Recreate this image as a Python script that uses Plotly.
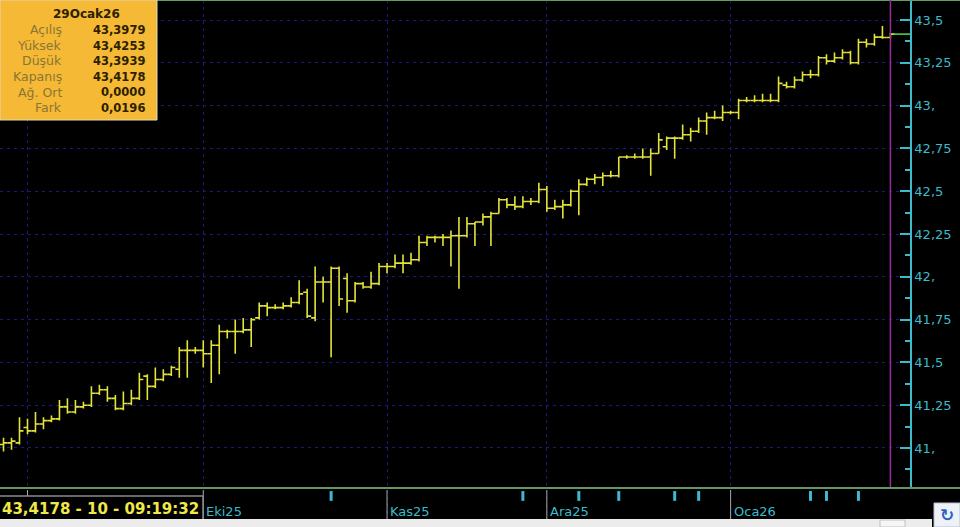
import pandas as pd
import plotly.graph_objects as go

# daily bars, 27 Aug 2025 .. 29 Jan 2026 (weekdays)
dates = pd.bdate_range("2025-08-27", "2026-01-29").strftime("%Y-%m-%d").tolist()

opens = [
    41.02, 41.03, 41.03, 41.12, 41.10, 41.14, 41.16, 41.17, 41.24, 41.21,
    41.24, 41.25, 41.32, 41.34, 41.29, 41.23, 41.26, 41.29, 41.42, 41.36,
    41.40, 41.43, 41.46, 41.57, 41.57, 41.57, 41.55, 41.60, 41.68, 41.68,
    41.68, 41.69, 41.76, 41.83, 41.82, 41.82, 41.83, 41.85, 41.91, 41.76,
    41.97, 41.97, 42.05, 41.99, 41.86, 41.96, 41.94, 41.96, 42.06, 42.06,
    42.08, 42.08, 42.10, 42.20, 42.23, 42.23, 42.23, 42.24, 42.24, 42.31,
    42.32, 42.35, 42.37, 42.45, 42.42, 42.41, 42.44, 42.44, 42.51, 42.40,
    42.41, 42.42, 42.50, 42.54, 42.57, 42.58, 42.59, 42.59, 42.70, 42.70,
    42.70, 42.70, 42.72, 42.76, 42.81, 42.81, 42.83, 42.85, 42.91, 42.93,
    42.93, 42.96, 42.96, 43.03, 43.03, 43.03, 43.03, 43.03, 43.12, 43.11,
    43.15, 43.18, 43.18, 43.28, 43.26, 43.28, 43.31, 43.25, 43.37, 43.36,
    43.40, 43.3979,
]
highs = [
    41.06, 41.06, 41.18, 41.17, 41.21, 41.18, 41.19, 41.28, 41.29, 41.28,
    41.27, 41.36, 41.37, 41.36, 41.31, 41.33, 41.34, 41.44, 41.43, 41.47,
    41.46, 41.48, 41.59, 41.63, 41.59, 41.63, 41.63, 41.72, 41.69, 41.75,
    41.76, 41.76, 41.85, 41.85, 41.84, 41.85, 41.88, 41.98, 41.93, 42.06,
    42.00, 42.06, 42.06, 42.02, 41.97, 41.97, 42.03, 42.08, 42.08, 42.13,
    42.13, 42.14, 42.24, 42.24, 42.24, 42.25, 42.27, 42.35, 42.35, 42.32,
    42.37, 42.38, 42.46, 42.46, 42.47, 42.47, 42.46, 42.55, 42.53, 42.45,
    42.45, 42.51, 42.57, 42.58, 42.60, 42.61, 42.62, 42.70, 42.71, 42.72,
    42.75, 42.75, 42.84, 42.82, 42.82, 42.89, 42.87, 42.93, 42.96, 42.97,
    43.00, 42.97, 43.04, 43.05, 43.06, 43.07, 43.07, 43.17, 43.14, 43.17,
    43.20, 43.21, 43.29, 43.30, 43.31, 43.33, 43.32, 43.39, 43.39, 43.42,
    43.465, 43.4253,
]
lows = [
    40.98, 40.99, 41.02, 41.08, 41.09, 41.11, 41.15, 41.16, 41.20, 41.20,
    41.23, 41.24, 41.31, 41.27, 41.22, 41.22, 41.25, 41.28, 41.28, 41.35,
    41.39, 41.42, 41.41, 41.41, 41.55, 41.47, 41.38, 41.43, 41.64, 41.55,
    41.67, 41.59, 41.75, 41.77, 41.81, 41.81, 41.82, 41.84, 41.76, 41.74,
    41.85, 41.53, 41.83, 41.79, 41.85, 41.93, 41.93, 41.95, 42.02, 42.05,
    42.02, 42.07, 42.09, 42.18, 42.20, 42.18, 42.06, 41.93, 42.23, 42.18,
    42.30, 42.18, 42.37, 42.40, 42.39, 42.40, 42.42, 42.43, 42.38, 42.39,
    42.34, 42.41, 42.36, 42.53, 42.54, 42.53, 42.58, 42.58, 42.69, 42.69,
    42.69, 42.59, 42.72, 42.74, 42.69, 42.80, 42.79, 42.84, 42.83, 42.92,
    42.91, 42.95, 42.92, 43.02, 43.02, 43.02, 43.02, 43.02, 43.10, 43.10,
    43.14, 43.16, 43.17, 43.24, 43.25, 43.27, 43.24, 43.24, 43.34, 43.35,
    43.39, 43.3939,
]
closes = [
    41.03, 41.04, 41.10, 41.10, 41.14, 41.16, 41.17, 41.24, 41.21, 41.24,
    41.25, 41.32, 41.34, 41.29, 41.23, 41.26, 41.29, 41.40, 41.36, 41.40,
    41.43, 41.47, 41.57, 41.57, 41.57, 41.55, 41.60, 41.68, 41.68, 41.68,
    41.69, 41.75, 41.83, 41.82, 41.82, 41.83, 41.85, 41.90, 41.77, 41.97,
    41.97, 42.05, 41.87, 41.86, 41.96, 41.94, 41.96, 42.06, 42.06, 42.08,
    42.08, 42.10, 42.20, 42.23, 42.23, 42.23, 42.24, 42.24, 42.31, 42.32,
    42.35, 42.37, 42.45, 42.42, 42.41, 42.44, 42.44, 42.51, 42.40, 42.41,
    42.42, 42.50, 42.54, 42.57, 42.58, 42.59, 42.59, 42.70, 42.70, 42.70,
    42.70, 42.72, 42.80, 42.81, 42.81, 42.83, 42.85, 42.91, 42.93, 42.93,
    42.96, 42.96, 43.03, 43.03, 43.03, 43.03, 43.03, 43.13, 43.11, 43.15,
    43.18, 43.18, 43.28, 43.26, 43.28, 43.31, 43.25, 43.37, 43.36, 43.40,
    43.398, 43.4178,
]

month_starts = ["2025-09-01", "2025-10-01", "2025-11-03", "2025-12-01", "2026-01-01"]
month_labels = ["Eyl25", "Eki25", "Kas25", "Ara25", "Oca26"]
event_dates = ["2025-10-23", "2025-11-26", "2025-12-05", "2025-12-12", "2025-12-23",
               "2025-12-26", "2026-01-15", "2026-01-19", "2026-01-23"]

y_ticks = [41.0, 41.25, 41.5, 41.75, 42.0, 42.25, 42.5, 42.75, 43.0, 43.25, 43.5]
y_tick_labels = ["41,", "41,25", "41,5", "41,75", "42,", "42,25", "42,5", "42,75", "43,", "43,25", "43,5"]

info_date = "29Ocak26"
info_labels = ["Açılış", "Yüksek", "Düşük", "Kapanış", "Ağ. Ort", "Fark"]
info_values = ["43,3979", "43,4253", "43,3939", "43,4178", "0,0000", "0,0196"]
status_text = "43,4178 - 10 - 09:19:32"

FONT = "Verdana, DejaVu Sans"
YELLOW = "#E3E33C"
CYAN = "#3BBBCB"
GRID = "#1A1A80"
W, H = 910, 519  # plot area in px (r margin 50, b margin 8)


def px(x=None, y=None):
    # pixel -> paper coords
    if x is not None:
        return x / W
    return 1 - y / H


def label(x, y, text, size, color, xanchor="center", xref="paper"):
    return dict(xref=xref, yref="paper", x=x, y=y, text=text, showarrow=False,
                xanchor=xanchor, yanchor="middle", font=dict(family=FONT, size=size, color=color))


fig = go.Figure()
bar_line = dict(color=YELLOW, width=1.6)
fig.add_trace(go.Ohlc(x=dates, open=opens, high=highs, low=lows, close=closes,
                      increasing=dict(line=bar_line), decreasing=dict(line=bar_line),
                      tickwidth=0.5, hoverinfo="skip"))
fig.add_trace(go.Scatter(x=event_dates, y=[1] * len(event_dates), xaxis="x", yaxis="y2",
                         mode="markers", hoverinfo="skip",
                         marker=dict(symbol="line-ns", size=7, line=dict(width=3, color=CYAN))))

shapes = [
    dict(type="line", xref="paper", yref="paper", x0=0, x1=960 / W, y0=px(y=0.5), y1=px(y=0.5),
         line=dict(color="#5f9f5f", width=1)),
    dict(type="line", xref="paper", yref="paper", x0=0, x1=960 / W, y0=px(y=488), y1=px(y=488),
         line=dict(color="#86c886", width=1.5)),
    dict(type="line", xref="x", yref="paper", x0=dates[-1], x1=dates[-1], y0=px(y=487), y1=1,
         line=dict(color="#9A2A9A", width=1.5)),
    dict(type="line", xref="paper", yref="y", x0=px(893), x1=1, y0=closes[-1], y1=closes[-1],
         line=dict(color="#5ed84a", width=1.5)),
]
for m in month_starts:
    shapes.append(dict(type="line", xref="x", yref="paper", x0=m, x1=m, y0=0, y1=px(y=490),
                       line=dict(color="#a8a8a8", width=1)))
# status box, scrollbar and corner button, info box
shapes += [
    dict(type="rect", xref="paper", yref="paper", x0=-0.01, x1=px(203), y0=-0.002, y1=px(y=496),
         fillcolor="black", line=dict(color="#8a8a8a", width=1.5)),
    dict(type="rect", xref="paper", yref="paper", x0=0, x1=932 / W, y0=px(y=527), y1=0,
         fillcolor="#ececec", line=dict(width=0)),
    dict(type="rect", xref="paper", yref="paper", x0=px(880), x1=px(905), y0=px(y=527), y1=px(y=520),
         fillcolor="#f6f6f6", line=dict(color="#c0c0c0", width=1)),
    dict(type="rect", xref="paper", yref="paper", x0=934 / W, x1=960 / W, y0=px(y=527), y1=px(y=503),
         fillcolor="#eef2f8", line=dict(color="#b8c0cc", width=1)),
    dict(type="rect", xref="paper", yref="paper", x0=0, x1=px(157), y0=px(y=120), y1=1,
         fillcolor="#F5B935", line=dict(color="#e0d8c0", width=1)),
]

annotations = [
    label(px(86), px(y=14), "<b>" + info_date + "</b>", 12, "#2b2100"),
    label(0, px(y=508.5), "<b>" + status_text + "</b>", 15, "#F0E848", xanchor="left"),
    label(947 / W, px(y=515), "<b>↻</b>", 17, "#2a62c8"),
]
for k, (lab, val) in enumerate(zip(info_labels, info_values)):
    yy = px(y=30 + 15.5 * k)
    annotations.append(label(px(64), yy, lab, 12.5, "#8a7535", xanchor="right"))
    annotations.append(label(px(147), yy, "<b>" + val + "</b>", 11.5, "#2b2100", xanchor="right"))
for m, lab in zip(month_starts[1:], month_labels[1:]):
    a = label(m, px(y=511), lab, 13, CYAN, xanchor="left", xref="x")
    a["xshift"] = 1
    annotations.append(a)

minor_ticks = [v + 0.125 for v in [40.75] + y_ticks[:-1]]

fig.update_layout(
    width=960, height=527,
    margin=dict(l=0, r=50, t=0, b=8),
    paper_bgcolor="black", plot_bgcolor="black",
    showlegend=False, hovermode=False,
    xaxis=dict(type="category", range=[-0.44, 113.45], tickvals=month_starts, showticklabels=False,
               ticks="", showgrid=True, gridcolor=GRID, griddash="3px,4px", gridwidth=1,
               showline=False, zeroline=False, rangeslider=dict(visible=False), anchor="y"),
    yaxis=dict(domain=[px(y=487), 1], range=[40.772, 43.617], side="right",
               tickvals=y_ticks, ticktext=y_tick_labels, ticks="inside", ticklen=10, tickwidth=1.5,
               tickcolor=CYAN, showline=True, linecolor=CYAN, linewidth=1.5,
               tickfont=dict(family=FONT, size=13, color=CYAN),
               showgrid=True, gridcolor=GRID, griddash="3px,4px", gridwidth=1, zeroline=False,
               minor=dict(tickvals=minor_ticks, ticks="inside", ticklen=5, tickwidth=1.5,
                          tickcolor=CYAN, showgrid=False)),
    yaxis2=dict(domain=[0, px(y=490)], range=[0, 1.26], visible=False),
    shapes=shapes,
    annotations=annotations,
)

fig.write_html("out.html", config={"displayModeBar": False},
               post_script="document.body.style.margin='0';")
